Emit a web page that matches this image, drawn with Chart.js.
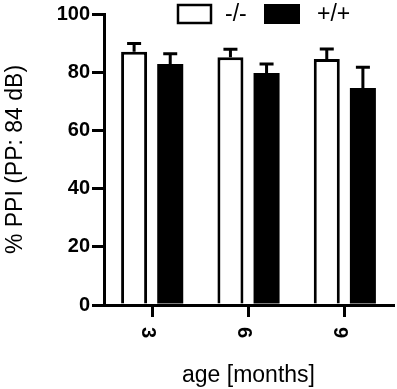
<!DOCTYPE html>
<html><head><meta charset="utf-8">
<script src="https://cdn.jsdelivr.net/npm/chart.js@4/dist/chart.umd.min.js"></script>
<style>html,body{margin:0;padding:0;background:#fff;}canvas{display:block}</style>
</head><body>
<canvas id="c" width="397" height="389"></canvas>
<script>
const categories = ['3', '6', '9'];
const seriesNames = ['-/-', '+/+'];
const knockoutMean = [87.0, 85.1, 84.5];
const knockoutSem = [2.9, 2.8, 3.5];
const wildtypeMean = [82.8, 79.7, 74.6];
const wildtypeSem = [3.5, 3.1, 7.1];
const yTicks = [0, 20, 40, 60, 80, 100];

const FAMILY = '"Liberation Sans", Arial, Helvetica, sans-serif';

const errorBars = {
  id: 'errorBars',
  afterDatasetsDraw(chart) {
    const ctx = chart.ctx;
    const y = chart.scales.y;
    ctx.save();
    ctx.strokeStyle = '#000';
    ctx.lineWidth = 3;
    chart.data.datasets.forEach((ds, i) => {
      const meta = chart.getDatasetMeta(i);
      meta.data.forEach((el, j) => {
        const top = y.getPixelForValue(ds.data[j] + ds.sem[j]);
        ctx.beginPath();
        ctx.moveTo(el.x, el.y);
        ctx.lineTo(el.x, top);
        ctx.moveTo(el.x - 7, top);
        ctx.lineTo(el.x + 7, top);
        ctx.stroke();
      });
    });
    ctx.restore();
  }
};

const customLegend = {
  id: 'customLegend',
  afterDraw(chart) {
    const ctx = chart.ctx;
    const boxes = [{x: 178, y: 5, w: 33, h: 18}, {x: 264, y: 4, w: 36, h: 20}];
    const texts = [225, 317];
    ctx.save();
    ctx.font = '23px ' + FAMILY;
    ctx.textBaseline = 'middle';
    ctx.textAlign = 'left';
    chart.data.datasets.forEach((ds, i) => {
      const b = boxes[i];
      ctx.fillStyle = ds.backgroundColor;
      ctx.fillRect(b.x, b.y, b.w, b.h);
      if (ds.borderWidth) {
        ctx.lineWidth = 2.5;
        ctx.strokeStyle = ds.borderColor;
        ctx.strokeRect(b.x, b.y, b.w, b.h);
      }
      ctx.fillStyle = '#000';
      ctx.fillText(ds.label, texts[i], 15);
    });
    ctx.restore();
  }
};

new Chart(document.getElementById('c'), {
  type: 'bar',
  data: {
    labels: categories,
    datasets: [
      {label: seriesNames[0], data: knockoutMean, sem: knockoutSem,
       backgroundColor: '#fff', borderColor: '#000', borderWidth: 3,
       barPercentage: 0.72, categoryPercentage: 0.75},
      {label: seriesNames[1], data: wildtypeMean, sem: wildtypeSem,
       backgroundColor: '#000', borderColor: '#000', borderWidth: 0,
       barPercentage: 0.72, categoryPercentage: 0.75}
    ]
  },
  options: {
    responsive: false,
    devicePixelRatio: 1,
    animation: false,
    layout: {padding: {top: 14, right: 4, left: 0, bottom: 0}},
    plugins: {legend: {display: false}, tooltip: {enabled: false}},
    scales: {
      x: {
        offset: true,
        grid: {display: true, drawOnChartArea: false, offset: false, tickLength: 12, lineWidth: 3, color: '#000'},
        border: {display: true, width: 3, color: '#000'},
        ticks: {minRotation: -90, maxRotation: -90, labelOffset: -5, padding: 21,
                font: {family: FAMILY, size: 20, weight: 'bold'}, color: '#000'},
        title: {display: true, text: 'age [months]', font: {family: FAMILY, size: 23}, color: '#000', padding: 0},
        afterFit: s => { s.height = 84; }
      },
      y: {
        min: 0, max: 100,
        afterBuildTicks: s => { s.ticks = yTicks.map(v => ({value: v})); },
        grid: {display: true, drawOnChartArea: false, tickLength: 12, lineWidth: 3, color: '#000'},
        border: {display: true, width: 3, color: '#000'},
        ticks: {padding: 2, font: {family: FAMILY, size: 20, weight: 'bold'}, color: '#000'},
        title: {display: true, text: '% PPI (PP: 84 dB)', font: {family: FAMILY, size: 23}, color: '#000', padding: {top: 2, bottom: 0}},
        afterFit: s => { s.width = 104; }
      }
    }
  },
  plugins: [errorBars, customLegend]
});
</script>
</body></html>
